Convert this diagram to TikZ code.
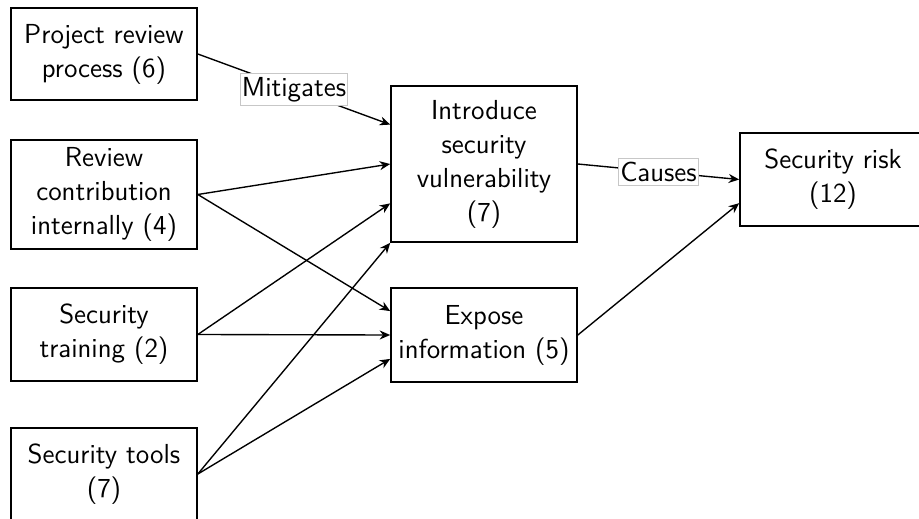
\documentclass[tikz,border=0pt]{standalone}
\usetikzlibrary{arrows.meta,calc}
\begin{document}
\begin{tikzpicture}[x=0.4pt,y=-0.4pt,
  every node/.style={font=\fontsize{11}{13.6}\selectfont\sffamily},
  box/.style={draw,line width=0.65pt,align=center,inner sep=0pt,
              minimum width=74.4pt},
  link/.style={line width=0.55pt,-{Stealth[length=4.2pt,width=3.6pt]}},
  tag/.style={fill=white,draw=black!22,line width=0.3pt,inner xsep=0.6pt,inner ysep=1.6pt}]
\useasboundingbox (0,0) rectangle (919,519);

% causes on the left
\node[box,minimum height=36.8pt] (proj)   at (104,54)    {Project review\\process (6)};
\node[box,minimum height=43.6pt] (review) at (104,194.5) {Review\\contribution\\internally (4)};
\node[box,minimum height=37.2pt] (train)  at (104,334.5) {Security\\training (2)};
\node[box,minimum height=36.8pt] (tools)  at (104,474)   {Security tools\\(7)};

% intermediate effects
\node[box,minimum height=62.4pt] (intro)  at (484,164)   {Introduce\\security\\vulnerability\\(7)};
\node[box,minimum height=37.6pt] (expose) at (484,335)   {Expose\\information (5)};

% final outcome
\node[box,minimum height=37.2pt] (risk)   at (833,179.5) {Security risk\\(12)};

% edges into "Introduce security vulnerability"
\draw[link] (proj.east) -- node[tag] {Mitigates} ($(intro.north west)!0.5!(intro.west)$);
\draw[link] (review.east) -- (intro.west);
\draw[link] (train.east) -- ($(intro.west)!0.5!(intro.south west)$);
\draw[link] (tools.east) -- (intro.south west);

% edges into "Expose information"
\draw[link] (review.east) -- ($(expose.north west)!0.5!(expose.west)$);
\draw[link] (train.east) -- (expose.west);
\draw[link] (tools.east) -- ($(expose.west)!0.5!(expose.south west)$);

% edges into "Security risk"
\draw[link] (intro.east) -- node[tag] {Causes} (risk.west);
\draw[link] (expose.east) -- ($(risk.west)!0.5!(risk.south west)$);
\end{tikzpicture}
\end{document}
